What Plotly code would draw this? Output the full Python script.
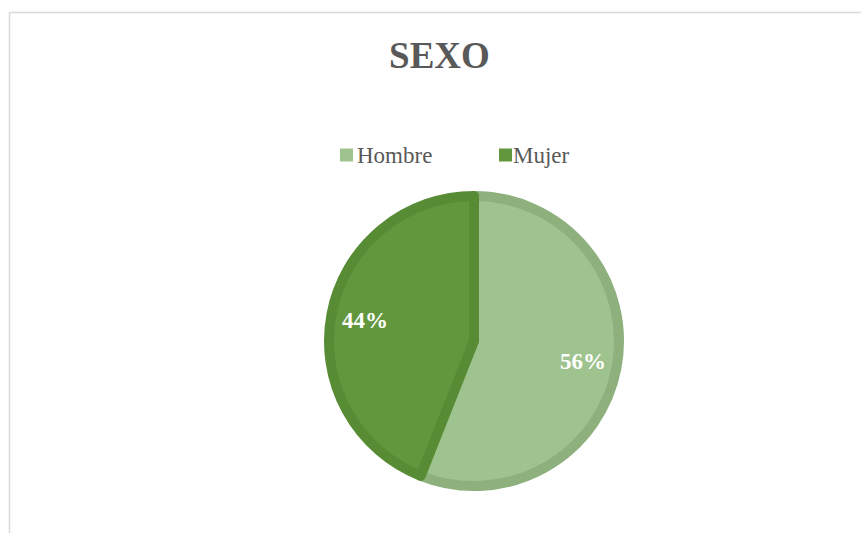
import math
import plotly.graph_objects as go

categories = ["Hombre", "Mujer"]
values = [56, 44]
fill_colors = ["#9FC38E", "#62973D"]
border_colors = ["#8DB07D", "#578B34"]
title_text = "SEXO"

W, H = 861, 533
cx, cy, r_path = 474, 341, 145
r_label = 111

fig = go.Figure(
    go.Pie(
        labels=categories,
        values=values,
        sort=False,
        direction="clockwise",
        rotation=0,
        marker=dict(colors=fill_colors, line=dict(color=border_colors, width=10)),
        textinfo="none",
        hoverinfo="label+percent",
        showlegend=False,
        domain=dict(
            x=[(cx - r_path) / W, (cx + r_path) / W],
            y=[(H - cy - r_path) / H, (H - cy + r_path) / H],
        ),
    )
)

# percentage labels placed at each slice's mid-angle (Excel-style positions)
total = sum(values)
cum = 0.0
annotations = []
for v in values:
    theta = 2 * math.pi * (cum + v / 2) / total
    cum += v
    px = cx + r_label * math.sin(theta)
    py = cy - r_label * math.cos(theta)
    annotations.append(dict(
        text=f"{round(100 * v / total)}%",
        x=px / W, y=1 - py / H, xref="paper", yref="paper",
        xanchor="center", yanchor="middle", showarrow=False,
        borderpad=0, borderwidth=0,
        font=dict(family="Liberation Serif", size=23, color="white", weight="bold"),
    ))

# legend built from squares + text
legend_sq = [(340, 353), (499, 512)]
legend_tx = [357, 513]
legend_cy = 155
shapes = []
for (x0, x1), tx, name, col in zip(legend_sq, legend_tx, categories, fill_colors):
    shapes.append(dict(type="rect", xref="paper", yref="paper",
                       x0=x0 / W, x1=x1 / W,
                       y0=1 - (legend_cy + 6.5) / H, y1=1 - (legend_cy - 6.5) / H,
                       fillcolor=col, line=dict(width=0)))
    annotations.append(dict(
        text=name, x=tx / W, y=1 - legend_cy / H, xref="paper", yref="paper",
        xanchor="left", yanchor="middle", showarrow=False,
        borderpad=0, borderwidth=0,
        font=dict(family="Liberation Serif", size=23, color="#595959"),
    ))

shapes += [
    dict(type="line", xref="paper", yref="paper",
         x0=9.5 / W, x1=1.05, y0=1 - 12.5 / H, y1=1 - 12.5 / H,
         line=dict(color="#D9D9D9", width=1.5)),
    dict(type="line", xref="paper", yref="paper",
         x0=9.5 / W, x1=9.5 / W, y0=-0.05, y1=1 - 12.5 / H,
         line=dict(color="#D9D9D9", width=1.5)),
]

fig.update_layout(
    width=W,
    height=H,
    margin=dict(l=0, r=0, t=0, b=0),
    paper_bgcolor="white",
    plot_bgcolor="white",
    showlegend=False,
    title=dict(
        text=title_text,
        x=439.5 / W,
        y=1 - 55 / H,
        xanchor="center",
        yanchor="middle",
        xref="paper",
        yref="paper",
        font=dict(family="Liberation Serif", size=37, color="#595959", weight="bold"),
    ),
    annotations=annotations,
    shapes=shapes,
)

fig.write_html("out.html", config={"displayModeBar": False},
               post_script="document.body.style.margin='0';")
